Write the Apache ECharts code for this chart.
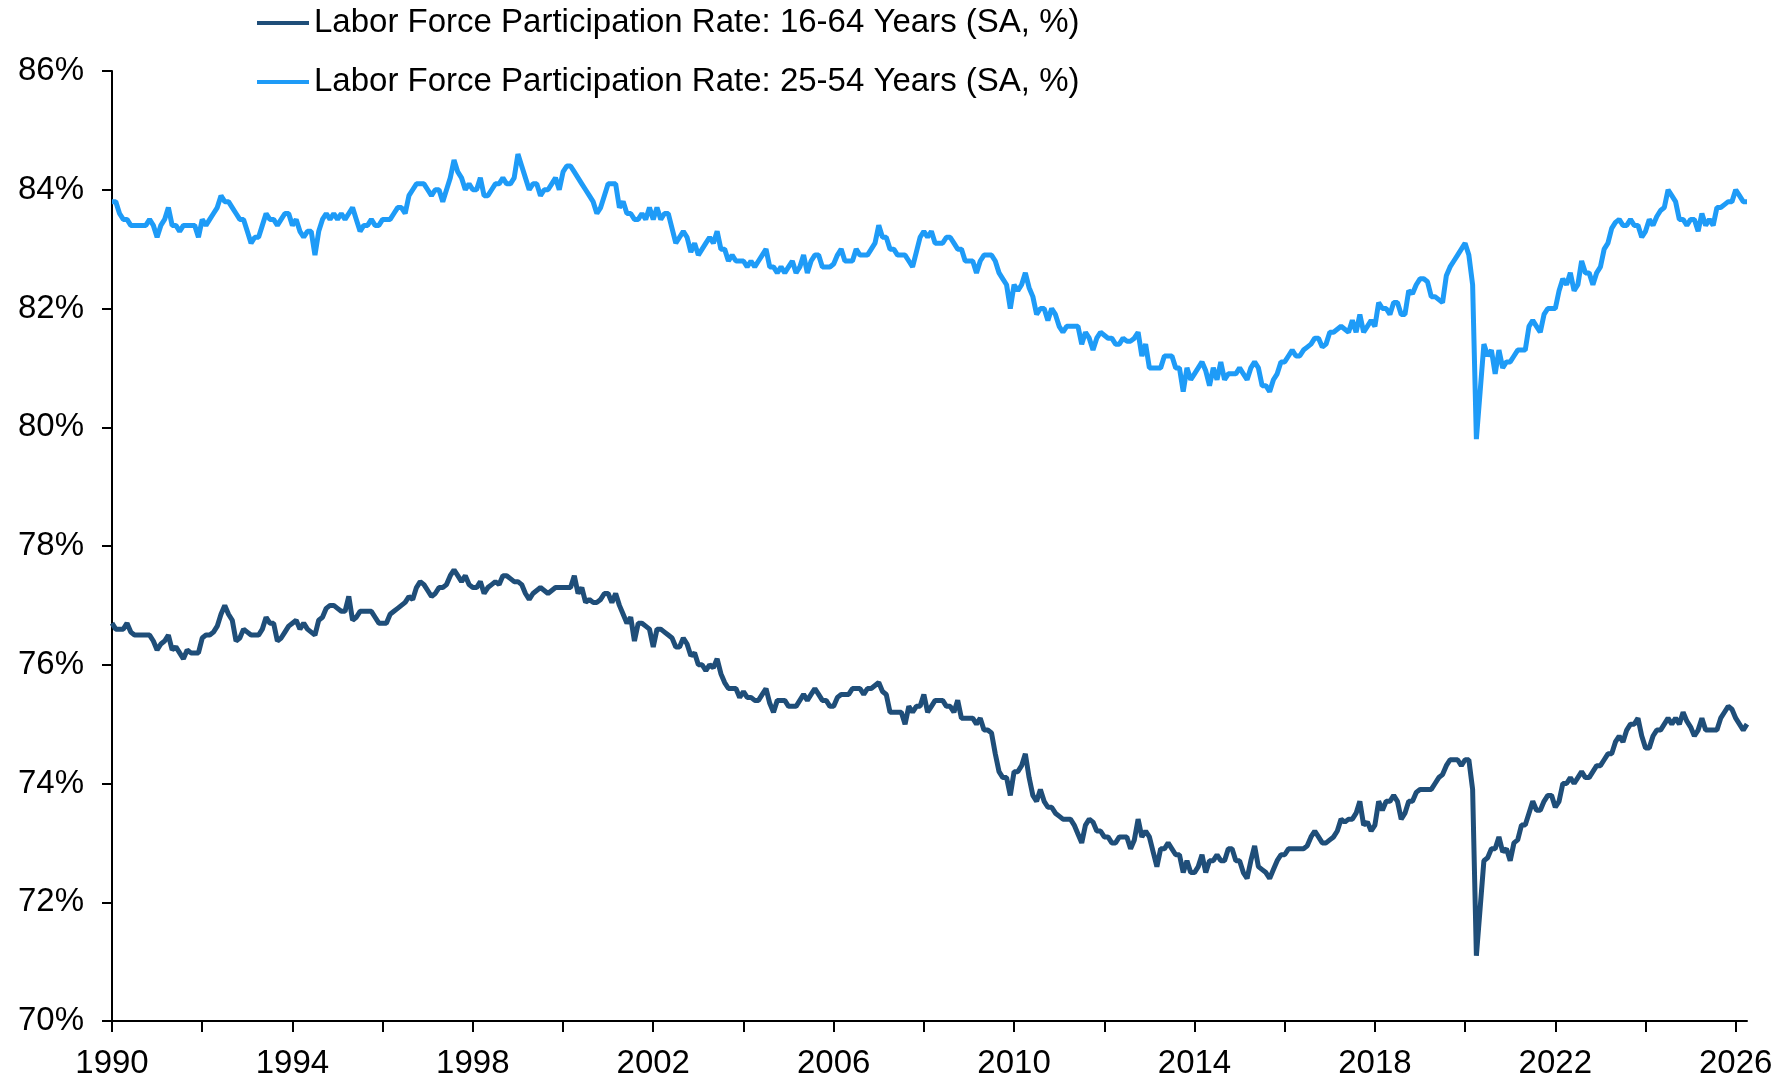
<!DOCTYPE html>
<html>
<head>
<meta charset="utf-8">
<script src="https://cdn.jsdelivr.net/npm/echarts@6/dist/echarts.min.js"></script>
<style>
html,body{margin:0;padding:0;background:#fff;}
#chart{width:1790px;height:1081px;}
</style>
</head>
<body>
<div id="chart"></div>
<script>
// monthly values, Jan 1990 .. Apr 2026, one row per year
var lfpr1664 = [
76.7,76.6,76.6,76.6,76.7,76.55,76.5,76.5,76.5,76.5,76.5,76.4, // 1990
76.25,76.35,76.4,76.5,76.25,76.3,76.2,76.1,76.25,76.2,76.2,76.2, // 1991
76.45,76.5,76.5,76.55,76.65,76.85,77.0,76.85,76.75,76.4,76.45,76.6, // 1992
76.55,76.5,76.5,76.5,76.6,76.8,76.7,76.7,76.4,76.45,76.55,76.65, // 1993
76.7,76.75,76.6,76.7,76.6,76.55,76.5,76.75,76.8,76.95,77.0,77.0, // 1994
76.95,76.9,76.9,77.15,76.75,76.8,76.9,76.9,76.9,76.9,76.8,76.7, // 1995
76.7,76.7,76.85,76.9,76.95,77.0,77.05,77.15,77.1,77.3,77.4,77.35, // 1996
77.25,77.15,77.2,77.3,77.3,77.35,77.5,77.6,77.5,77.4,77.5,77.35, // 1997
77.3,77.3,77.4,77.2,77.3,77.35,77.4,77.35,77.5,77.5,77.45,77.4, // 1998
77.4,77.35,77.2,77.1,77.2,77.25,77.3,77.25,77.2,77.25,77.3,77.3, // 1999
77.3,77.3,77.3,77.5,77.2,77.3,77.05,77.1,77.05,77.05,77.1,77.2, // 2000
77.2,77.05,77.2,77.0,76.85,76.7,76.8,76.4,76.7,76.7,76.65,76.6, // 2001
76.3,76.6,76.6,76.55,76.5,76.45,76.3,76.3,76.45,76.35,76.15,76.2, // 2002
76.0,76.0,75.9,76.0,75.95,76.1,75.85,75.7,75.6,75.6,75.6,75.45, // 2003
75.55,75.45,75.45,75.4,75.4,75.5,75.6,75.35,75.2,75.4,75.4,75.4, // 2004
75.3,75.3,75.3,75.4,75.5,75.4,75.5,75.6,75.5,75.4,75.4,75.3, // 2005
75.3,75.45,75.5,75.5,75.5,75.6,75.6,75.6,75.5,75.6,75.6,75.65, // 2006
75.7,75.55,75.5,75.2,75.2,75.2,75.2,75.0,75.3,75.2,75.3,75.3, // 2007
75.5,75.2,75.3,75.4,75.4,75.4,75.3,75.3,75.2,75.4,75.1,75.1, // 2008
75.1,75.1,75.0,75.1,74.9,74.9,74.85,74.5,74.2,74.1,74.1,73.8, // 2009
74.2,74.2,74.3,74.5,74.1,73.8,73.7,73.9,73.7,73.6,73.6,73.5, // 2010
73.45,73.4,73.4,73.4,73.3,73.15,73.0,73.3,73.4,73.35,73.2,73.2, // 2011
73.1,73.1,73.0,73.0,73.1,73.1,73.1,72.9,73.05,73.4,73.1,73.2, // 2012
73.1,72.85,72.6,72.9,72.9,73.0,72.9,72.8,72.8,72.5,72.7,72.5, // 2013
72.5,72.6,72.8,72.5,72.7,72.7,72.8,72.7,72.7,72.9,72.9,72.7, // 2014
72.7,72.5,72.4,72.7,72.95,72.6,72.55,72.5,72.4,72.55,72.7,72.8, // 2015
72.8,72.9,72.9,72.9,72.9,72.9,72.95,73.1,73.2,73.1,73.0,73.0, // 2016
73.05,73.1,73.2,73.4,73.35,73.4,73.4,73.5,73.7,73.3,73.35,73.2, // 2017
73.3,73.7,73.55,73.7,73.7,73.8,73.7,73.4,73.5,73.7,73.7,73.85, // 2018
73.9,73.9,73.9,73.9,74.0,74.1,74.15,74.3,74.4,74.4,74.4,74.3, // 2019
74.4,74.4,73.9,71.1,71.9,72.7,72.75,72.9,72.9,73.1,72.85,72.9, // 2020
72.7,73.0,73.05,73.3,73.3,73.5,73.7,73.55,73.55,73.7,73.8,73.8, // 2021
73.6,73.7,74.0,74.0,74.1,74.0,74.1,74.2,74.1,74.1,74.2,74.3, // 2022
74.3,74.4,74.5,74.5,74.7,74.8,74.7,74.9,75.0,75.0,75.1,74.8, // 2023
74.6,74.6,74.8,74.9,74.9,75.0,75.1,75.0,75.1,75.0,75.2,75.05, // 2024
74.95,74.8,74.9,75.1,74.9,74.9,74.9,74.9,75.1,75.2,75.3,75.25, // 2025
75.1,75.0,74.9,75.0 // 2026
];

var lfpr2554 = [
83.8,83.8,83.6,83.5,83.5,83.4,83.4,83.4,83.4,83.4,83.5,83.4, // 1990
83.2,83.4,83.5,83.7,83.4,83.4,83.3,83.4,83.4,83.4,83.4,83.2, // 1991
83.5,83.4,83.5,83.6,83.7,83.9,83.8,83.8,83.7,83.6,83.5,83.5, // 1992
83.3,83.1,83.2,83.2,83.4,83.6,83.5,83.5,83.4,83.5,83.6,83.6, // 1993
83.4,83.5,83.3,83.2,83.3,83.3,82.9,83.3,83.5,83.6,83.5,83.6, // 1994
83.5,83.6,83.5,83.6,83.7,83.5,83.3,83.4,83.4,83.5,83.4,83.4, // 1995
83.5,83.5,83.5,83.6,83.7,83.7,83.6,83.9,84.0,84.1,84.1,84.1, // 1996
84.0,83.9,84.0,84.0,83.8,84.0,84.2,84.5,84.3,84.2,84.0,84.1, // 1997
84.0,84.0,84.2,83.9,83.9,84.0,84.1,84.1,84.2,84.1,84.1,84.2, // 1998
84.6,84.4,84.2,84.0,84.1,84.1,83.9,84.0,84.0,84.1,84.2,84.0, // 1999
84.3,84.4,84.4,84.3,84.2,84.1,84.0,83.9,83.8,83.6,83.7,83.9, // 2000
84.1,84.1,84.1,83.7,83.8,83.6,83.6,83.5,83.5,83.6,83.5,83.7, // 2001
83.5,83.7,83.5,83.6,83.6,83.35,83.1,83.2,83.3,83.2,82.95,83.1, // 2002
82.9,83.0,83.1,83.2,83.1,83.3,83.0,83.0,82.8,82.9,82.8,82.8, // 2003
82.8,82.7,82.8,82.7,82.8,82.9,83.0,82.7,82.7,82.6,82.7,82.6, // 2004
82.7,82.8,82.6,82.7,82.9,82.6,82.8,82.9,82.9,82.7,82.7,82.7, // 2005
82.75,82.9,83.0,82.8,82.8,82.8,83.0,82.9,82.9,82.9,83.0,83.1, // 2006
83.4,83.2,83.2,83.0,83.0,82.9,82.9,82.9,82.8,82.7,82.95,83.2, // 2007
83.3,83.2,83.3,83.1,83.1,83.1,83.2,83.2,83.1,83.0,83.0,82.8, // 2008
82.8,82.8,82.6,82.8,82.9,82.9,82.9,82.8,82.6,82.5,82.4,82.0, // 2009
82.4,82.3,82.4,82.6,82.35,82.2,81.9,82.0,82.0,81.8,82.0,81.9, // 2010
81.7,81.6,81.7,81.7,81.7,81.7,81.4,81.6,81.5,81.3,81.5,81.6, // 2011
81.55,81.5,81.5,81.4,81.4,81.5,81.45,81.45,81.5,81.6,81.2,81.4, // 2012
81.0,81.0,81.0,81.0,81.2,81.2,81.2,81.0,81.0,80.6,81.0,80.8, // 2013
80.9,81.0,81.1,80.95,80.7,81.0,80.8,81.1,80.8,80.9,80.9,80.9, // 2014
81.0,80.9,80.8,81.0,81.1,81.0,80.7,80.7,80.6,80.8,80.9,81.1, // 2015
81.1,81.2,81.3,81.2,81.2,81.3,81.35,81.4,81.5,81.5,81.35,81.4, // 2016
81.6,81.6,81.65,81.7,81.65,81.6,81.8,81.6,81.9,81.6,81.7,81.8, // 2017
81.7,82.1,82.0,82.0,81.9,82.1,82.1,81.9,81.9,82.3,82.25,82.4, // 2018
82.5,82.5,82.45,82.2,82.2,82.15,82.1,82.55,82.7,82.8,82.9,83.0, // 2019
83.1,82.9,82.4,79.8,80.6,81.4,81.2,81.3,80.9,81.3,81.0,81.1, // 2020
81.1,81.2,81.3,81.3,81.3,81.7,81.8,81.7,81.6,81.9,82.0,82.0, // 2021
82.0,82.3,82.5,82.4,82.6,82.3,82.4,82.8,82.6,82.6,82.4,82.6, // 2022
82.7,83.0,83.1,83.35,83.45,83.5,83.4,83.4,83.5,83.4,83.4,83.2, // 2023
83.3,83.5,83.4,83.55,83.65,83.7,84.0,83.9,83.8,83.5,83.5,83.4, // 2024
83.5,83.5,83.3,83.6,83.4,83.5,83.4,83.7,83.7,83.75,83.8,83.8, // 2025
84.0,83.9,83.8,83.8 // 2026
];

var seriesNames = [
  'Labor Force Participation Rate: 16-64 Years (SA, %)',
  'Labor Force Participation Rate: 25-54 Years (SA, %)'
];
var seriesColors = ['#1f4e79', '#1e9bf7'];

// month labels, built from the start year
var months = [];
for (var i = 0; i < lfpr1664.length; i++) {
  var yr = 1990 + Math.floor(i / 12);
  var mo = (i % 12) + 1;
  months.push(yr + '-' + (mo < 10 ? '0' + mo : mo));
}

var fontFam = '"Liberation Sans", Arial, sans-serif';
var myChart = echarts.init(document.getElementById('chart'));
var option = {
  animation: false,
  backgroundColor: '#fff',
  legend: {
    orient: 'vertical',
    left: 252,
    top: 0,
    itemWidth: 52,
    itemHeight: 4,
    itemGap: 23,
    icon: 'rect',
    textStyle: { color: '#000', fontSize: 33, fontFamily: fontFam, lineHeight: 36 },
    data: seriesNames
  },
  grid: { left: 112, right: 43, top: 71, bottom: 60 },
  xAxis: {
    type: 'category',
    data: months,
    boundaryGap: false,
    axisLine: { show: true, lineStyle: { color: '#000', width: 2 } },
    axisTick: {
      show: true,
      length: 11,
      lineStyle: { color: '#000', width: 2 },
      interval: function (idx) { return idx % 24 === 0; }
    },
    axisLabel: {
      color: '#000',
      fontSize: 33,
      fontFamily: fontFam,
      margin: 26,
      interval: function (idx) { return idx % 48 === 0; },
      formatter: function (v) { return v.slice(0, 4); }
    },
    splitLine: { show: false }
  },
  yAxis: {
    type: 'value',
    min: 70,
    max: 86,
    interval: 2,
    axisLine: { show: true, lineStyle: { color: '#000', width: 2 } },
    axisTick: { show: true, length: 10, lineStyle: { color: '#000', width: 2 } },
    axisLabel: { color: '#000', fontSize: 33, fontFamily: fontFam, margin: 28, formatter: '{value}%' },
    splitLine: { show: false }
  },
  series: [
    {
      name: seriesNames[0],
      type: 'line',
      data: lfpr1664,
      showSymbol: false,
      color: seriesColors[0],
      lineStyle: { width: 5, color: seriesColors[0] }
    },
    {
      name: seriesNames[1],
      type: 'line',
      data: lfpr2554,
      showSymbol: false,
      color: seriesColors[1],
      lineStyle: { width: 5, color: seriesColors[1] }
    }
  ]
};
myChart.setOption(option, true);
</script>
</body>
</html>
